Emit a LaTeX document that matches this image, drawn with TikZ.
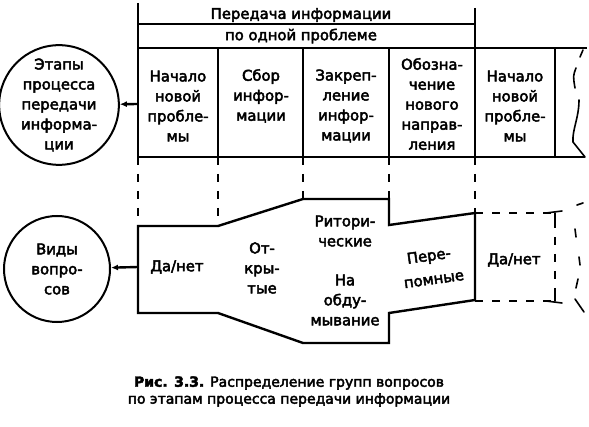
\documentclass[tikz,border=0pt]{standalone}
\usepackage{fontspec}
\setmainfont[RawFeature={embolden=3}]{DejaVu Sans}
\usetikzlibrary{arrows.meta}
\begin{document}
\begin{tikzpicture}[x=1pt,y=-1pt,
  txt/.style={align=center,inner sep=0pt,font=\fontsize{14.8}{20}\selectfont},
  captxt/.style={align=center,inner sep=0pt,font=\fontsize{14}{17}\selectfont},
  heavy/.style={line width=2.4pt},
  light/.style={line width=1.5pt},
  dsh/.style={line width=1.8pt,dash pattern=on 8pt off 9pt},
  ring/.style={circle,draw,line width=2pt,minimum size=106pt,inner sep=0pt,align=center,font=\fontsize{14.8}{20}\selectfont},
  brk/.style={line width=1.6pt,line cap=round}
]
\useasboundingbox (0,0) rectangle (589,427);

% ---------- top table ----------
\draw[heavy] (138,3) -- (138,163);
\draw[light] (475,8) -- (475,48);
\draw[light] (138,24) -- (475,24);
\draw[heavy] (138,48) -- (587,48);
\draw[heavy] (138,157) -- (585,157);
\foreach \x in {218,303,389,475,555} \draw[heavy] (\x,48) -- (\x,157);

\node[txt] (h1) at (301,15) {Передача информации};
\node[txt] (h2) at (301,36) {по одной проблеме};

\node[txt] (t1) at (178,106) {Начало\\новой\\пробле-\\мы};
\node[txt] (t2) at (261,96) {Сбор\\инфор-\\мации};
\node[txt] (t3) at (346,106) {Закреп-\\ление\\инфор-\\мации};
\node[txt] (t4) at (432,104) {Обозна-\\чение\\нового\\направ-\\ления};
\node[txt] (t5) at (515,106) {Начало\\новой\\пробле-\\мы};

% break at the right of the table
\draw[brk] (583,50) -- (580,57);
\draw[brk] (576,68) .. controls (573,76) .. (575,88);
\draw[brk] (579,100) .. controls (579,118) and (572,130) .. (573,142) -- (585,157);

% ---------- circles ----------
\node[ring] (c1) at (59,105) {Этапы\\процесса\\передачи\\информа-\\ции};
\node[ring] (c2) at (57,269) {Виды\\вопро-\\сов};
\coordinate (a1) at (138,104);
\coordinate (a2) at (138,267);
\draw[heavy,-{Latex[length=7pt,width=6pt]}] (a1) -- (c1);
\draw[heavy,-{Latex[length=7pt,width=6pt]}] (a2) -- (c2);

% ---------- dashed links ----------
\draw[dsh] (138,157) -- (138,226);
\draw[dsh] (218,157) -- (218,226);
\draw[dsh] (303,157) -- (303,199);
\draw[dsh] (389,157) -- (389,199);
\draw[dsh] (475,157) -- (475,213);

% ---------- bottom shape ----------
\draw[heavy,line join=miter] (218,226) -- (138,226) -- (138,313) -- (218,313) -- (303,343) -- (389,343)
  -- (389,313) -- (475,300) -- (475,213) -- (389,225) -- (389,199) -- (303,199) -- cycle;

\draw[dsh] (475,213) -- (555,213);
\draw[dsh] (475,301) -- (555,301);
\draw[dsh] (555,220) -- (555,295);
\draw[brk] (546,213) -- (562,211);
\draw[brk] (555,213) -- (555,220);
\draw[brk] (546,301) -- (562,303);
\draw[brk] (555,295) -- (555,301);

% dashed break on the right
\draw[brk] (577,205) -- (583,203);
\draw[brk] (575,229) -- (576,237);
\draw[brk] (579,257) -- (580,265);
\draw[brk] (578,279) -- (576,288);
\draw[brk] (575,299) -- (584,312);

\node[txt] (b1) at (177,267) {Да/нет};
\node[txt] (b2) at (262,268) {От-\\кры-\\тые};
\node[txt] (b3) at (345,231) {Ритори-\\ческие};
\node[txt] (b4) at (345,300) {На\\обду-\\мывание};
\node[txt,rotate=8] (b5) at (429,257) {Пере-};
\node[txt,rotate=8] (b6) at (434,280) {помные};
\node[txt] (b7) at (514,260) {Да/нет};

% ---------- caption ----------
\node[captxt] (cap1) at (289,383) {\textbf{Рис. 3.3.} Распределение групп вопросов};
\node[captxt] (cap2) at (289,400) {по этапам процесса передачи информации};
\end{tikzpicture}
\end{document}
